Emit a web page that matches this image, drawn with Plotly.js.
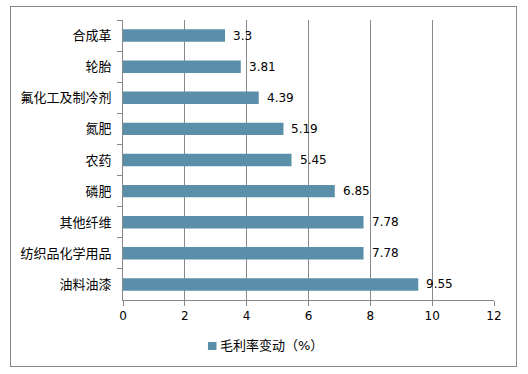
<!DOCTYPE html>
<html><head><meta charset="utf-8">
<script src="https://cdn.plot.ly/plotly-3.0.1.min.js"></script>
<style>
html,body{margin:0;padding:0;background:#fff;}
#wrap{position:relative;width:528px;height:374px;}
#chart{width:528px;height:374px;}
#frame{position:absolute;left:10px;top:6px;width:505px;height:359px;border:1px solid #888;pointer-events:none;}
</style></head>
<body><div id="wrap"><div id="chart"></div><div id="frame"></div></div>
<script>
const categories = ["合成革","轮胎","氟化工及制冷剂","氮肥","农药","磷肥","其他纤维","纺织品化学用品","油料油漆"];
const values = [3.3, 3.81, 4.39, 5.19, 5.45, 6.85, 7.78, 7.78, 9.55];
const labels = ["3.3","3.81","4.39","5.19","5.45","6.85","7.78","7.78","9.55"];
const seriesName = "毛利率变动（%）";
const xTicks = [0,2,4,6,8,10,12];

const FONT = "Tahoma, 'DejaVu Sans', 'Noto Sans CJK SC', sans-serif";
const BAR = "#5B8FA9";
const trace = {
  type: "bar", orientation: "h",
  y: categories, x: values, name: seriesName,
  marker: {color: BAR},
  width: 0.4,
  showlegend: false
};
const annotations = categories.map((c,i)=>({
  x: values[i], y: c, xref:"x", yref:"y", text: labels[i],
  showarrow:false, xanchor:"left", xshift:6, yshift:0,
  font:{family:FONT,size:12,color:"#000"}
}));
// legend (drawn as a key square + label)
annotations.push({x:0.256, y:-0.164, xref:"paper", yref:"paper", text:seriesName, showarrow:false,
  xanchor:"left", yanchor:"middle", font:{family:FONT,size:13,color:"#000"}});
const shapes = [{type:"rect", xref:"paper", yref:"paper", x0:0.229, x1:0.252, y0:-0.1786, y1:-0.15,
  fillcolor:BAR, line:{width:0}}];
const layout = {
  width:528, height:374,
  margin:{l:123, r:34, t:20, b:74},
  paper_bgcolor:"#fff", plot_bgcolor:"#fff",
  font:{family:FONT,size:12,color:"#000"},
  xaxis:{range:[0,12], tickvals:xTicks, ticktext:xTicks.map(String), showgrid:true, gridcolor:"#888", gridwidth:1,
    zeroline:false, showline:true, linecolor:"#888", ticks:"outside", ticklen:5, tickcolor:"#888",
    tickfont:{size:12}, fixedrange:true},
  yaxis:{type:"category", autorange:"reversed", showline:true, linecolor:"#888", ticks:"outside", ticklen:5,
    tickcolor:"#888", tickson:"boundaries", showgrid:false, ticklabelstandoff:8, tickfont:{size:13}},
  annotations: annotations,
  shapes: shapes,
  showlegend:false
};
Plotly.newPlot("chart",[trace],layout,{displayModeBar:false,staticPlot:true});
</script></body></html>
